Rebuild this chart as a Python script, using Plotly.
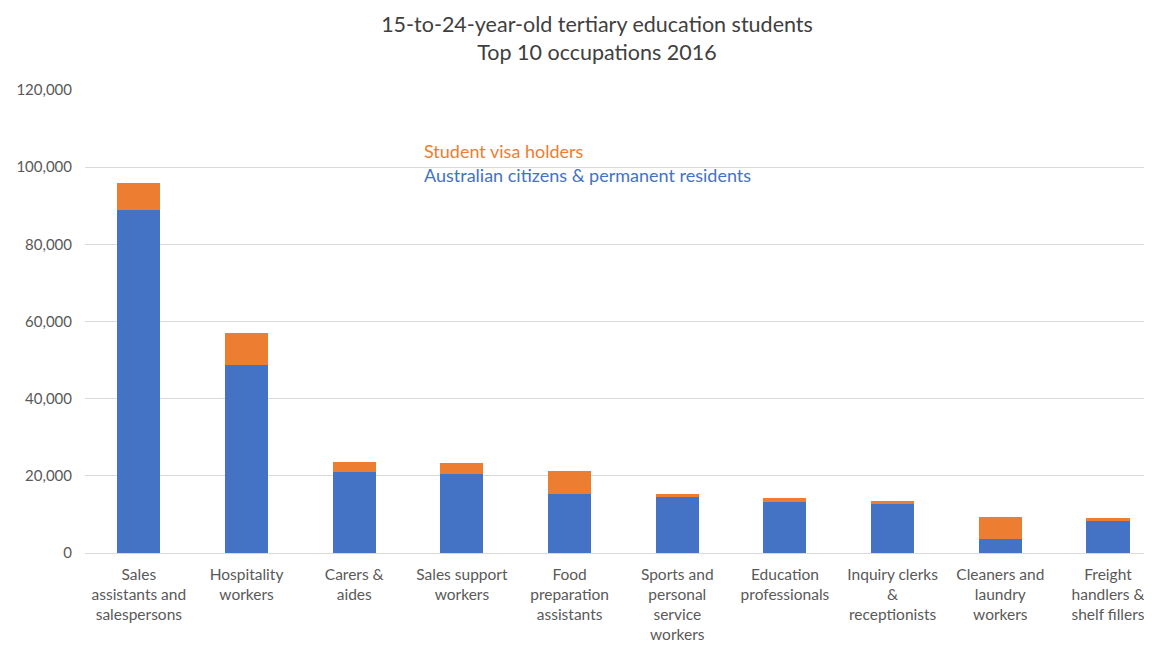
import plotly.graph_objects as go

categories = [
    "Sales<br>assistants and<br>salespersons",
    "Hospitality<br>workers",
    "Carers &<br>aides",
    "Sales support<br>workers",
    "Food<br>preparation<br>assistants",
    "Sports and<br>personal<br>service<br>workers",
    "Education<br>professionals",
    "Inquiry clerks<br>&<br>receptionists",
    "Cleaners and<br>laundry<br>workers",
    "Freight<br>handlers &<br>shelf fillers",
]
citizens = [88800, 48700, 21000, 20450, 15350, 14600, 13300, 12700, 3550, 8200]
visa = [7200, 8200, 2700, 2800, 5900, 800, 950, 780, 5700, 780]

series_names = ["Australian citizens & permanent residents", "Student visa holders"]
colors = ["#4472C4", "#ED7D31"]

font_family = "Lato, 'Open Sans', sans-serif"
grey = "#595959"

x_idx = list(range(len(categories)))

W, H = 1144, 638
ML, MR, MT, MB = 77, 2, 82, 93

fig = go.Figure()
fig.add_trace(go.Bar(x=x_idx, y=citizens, name=series_names[0], marker_color=colors[0],
                     marker_line_width=0, width=0.4))
fig.add_trace(go.Bar(x=x_idx, y=visa, name=series_names[1], marker_color=colors[1],
                     marker_line_width=0, width=0.4))

fig.update_layout(
    barmode="stack",
    width=W, height=H,
    margin=dict(l=ML, r=MR, t=MT, b=MB),
    paper_bgcolor="white", plot_bgcolor="white",
    showlegend=False,
    font=dict(family=font_family, color=grey, size=15),
    title=dict(
        text="15-to-24-year-old tertiary education students<br>Top 10 occupations 2016",
        x=(597 - 8) / W, xanchor="center", y=1 - 24 / H, yanchor="middle",
        font=dict(family=font_family, size=21.5, color="#404040"),
    ),
)
fig.update_xaxes(
    tickmode="array", tickvals=x_idx, ticktext=categories,
    range=[-0.5, 9.39], showgrid=False, zeroline=False,
    showline=False, ticks="", ticklabelstandoff=10,
    tickfont=dict(size=15.5, color=grey),
)
fig.update_yaxes(
    range=[0, 120000], dtick=20000, tickformat=",",
    showgrid=True, gridcolor="#d9d9d9", gridwidth=1,
    zeroline=True, zerolinecolor="#d9d9d9", zerolinewidth=1,
    showline=False, ticks="", ticklabelstandoff=12,
    tickfont=dict(size=15, color=grey),
)

plot_w = W - ML - MR
plot_h = H - MT - MB
fig.add_annotation(text=series_names[1], xref="paper", yref="paper",
                   x=(422 - 8 - ML) / plot_w, y=(545 - (151 - 8)) / plot_h,
                   xanchor="left", yanchor="middle",
                   showarrow=False, font=dict(size=18, color=colors[1], family=font_family))
fig.add_annotation(text=series_names[0], xref="paper", yref="paper",
                   x=(422 - 8 - ML) / plot_w, y=(545 - (175 - 8)) / plot_h,
                   xanchor="left", yanchor="middle",
                   showarrow=False, font=dict(size=18, color=colors[0], family=font_family))

fig.write_html("out.html")
